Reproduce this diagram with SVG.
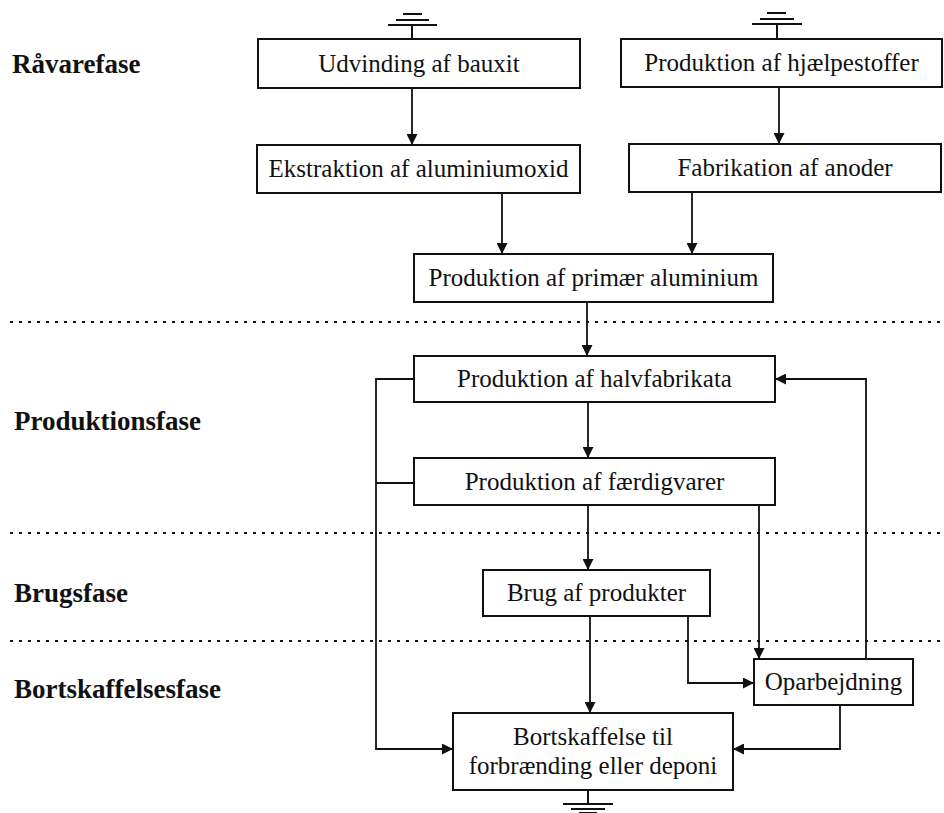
<svg xmlns="http://www.w3.org/2000/svg" width="944" height="813" viewBox="0 0 944 813">
<style>
.box{fill:#fff;stroke:#111;stroke-width:2}
.t{font-family:"Liberation Serif","Times New Roman",serif;font-size:25px;fill:#111;text-anchor:middle}
.ph{font-family:"Liberation Serif","Times New Roman",serif;font-size:27px;font-weight:bold;fill:#111}
.c{fill:none;stroke:#111;stroke-width:1.8}
.a{marker-end:url(#arr)}
.dot{stroke:#111;stroke-width:2;stroke-dasharray:3 6;fill:none}
.g{stroke:#111;stroke-width:2;fill:none}
</style>
<defs>
<marker id="arr" markerUnits="userSpaceOnUse" markerWidth="11" markerHeight="11" refX="11" refY="5.5" orient="auto">
<path d="M0,0 L11,5.5 L0,11 z" fill="#111"/>
</marker>
</defs>
<rect width="944" height="813" fill="#fff"/>
<g id="phases">
<text class="ph" x="12" y="73">Råvarefase</text>
<text class="ph" x="14" y="430">Produktionsfase</text>
<text class="ph" x="14" y="602">Brugsfase</text>
<text class="ph" x="14" y="698">Bortskaffelsesfase</text>
<line class="dot" x1="10" y1="322" x2="944" y2="322"/>
<line class="dot" x1="10" y1="533" x2="944" y2="533"/>
<line class="dot" x1="10" y1="641" x2="944" y2="641"/>
</g>
<g id="connectors">
<line class="c a" x1="412" y1="88" x2="412" y2="145"/>
<line class="c a" x1="779" y1="87" x2="779" y2="144"/>
<line class="c a" x1="502" y1="193" x2="502" y2="254"/>
<line class="c a" x1="692" y1="192" x2="692" y2="254"/>
<line class="c a" x1="587" y1="302" x2="587" y2="356"/>
<line class="c a" x1="588" y1="402" x2="588" y2="458"/>
<line class="c a" x1="588" y1="505" x2="588" y2="570"/>
<line class="c a" x1="590" y1="616" x2="590" y2="713"/>
<line class="c a" x1="759" y1="505" x2="759" y2="659"/>
<polyline class="c a" points="688,616 688,683 754,683"/>
<polyline class="c a" points="866,659 866,379 775,379"/>
<polyline class="c a" points="840,705 840,749 733,749"/>
<polyline class="c a" points="414,379 376,379 376,749 453,749"/>
<line class="c" x1="414" y1="483" x2="376" y2="483"/>
</g>
<g id="ground1">
<line class="g" x1="412" y1="39" x2="412" y2="25"/>
<line class="g" x1="388" y1="25" x2="437" y2="25"/>
<line class="g" x1="396" y1="20" x2="429" y2="20"/>
<line class="g" x1="403" y1="14" x2="422" y2="14"/>
</g>
<g id="ground2">
<line class="g" x1="777" y1="39" x2="777" y2="24"/>
<line class="g" x1="752" y1="24" x2="802" y2="24"/>
<line class="g" x1="760" y1="19" x2="794" y2="19"/>
<line class="g" x1="767" y1="13" x2="786" y2="13"/>
</g>
<g id="ground3">
<line class="g" x1="588" y1="790" x2="588" y2="804"/>
<line class="g" x1="563" y1="804" x2="613" y2="804"/>
<line class="g" x1="571" y1="809" x2="605" y2="809"/>
<line class="g" x1="579" y1="813" x2="597" y2="813"/>
</g>
<g id="n1"><rect class="box" x="258" y="39" width="322" height="49"/><text class="t" x="419" y="72">Udvinding af bauxit</text></g>
<g id="n2"><rect class="box" x="621" y="39" width="321" height="48"/><text class="t" x="781.5" y="71">Produktion af hjælpestoffer</text></g>
<g id="n3"><rect class="box" x="257" y="145" width="323" height="48"/><text class="t" x="418.5" y="177">Ekstraktion af aluminiumoxid</text></g>
<g id="n4"><rect class="box" x="629" y="144" width="312" height="48"/><text class="t" x="785" y="176">Fabrikation af anoder</text></g>
<g id="n5"><rect class="box" x="414" y="254" width="359" height="48"/><text class="t" x="593.5" y="286">Produktion af primær aluminium</text></g>
<g id="n6"><rect class="box" x="414" y="356" width="361" height="46"/><text class="t" x="594.5" y="387">Produktion af halvfabrikata</text></g>
<g id="n7"><rect class="box" x="414" y="458" width="361" height="47"/><text class="t" x="594.5" y="490">Produktion af færdigvarer</text></g>
<g id="n8"><rect class="box" x="483" y="570" width="227" height="46"/><text class="t" x="596.5" y="601">Brug af produkter</text></g>
<g id="n9"><rect class="box" x="754" y="659" width="159" height="46"/><text class="t" x="833.5" y="690">Oparbejdning</text></g>
<g id="n10"><rect class="box" x="453" y="713" width="280" height="77"/><text class="t" x="593" y="745">Bortskaffelse til</text><text class="t" x="593" y="774">forbrænding eller deponi</text></g>
</svg>
